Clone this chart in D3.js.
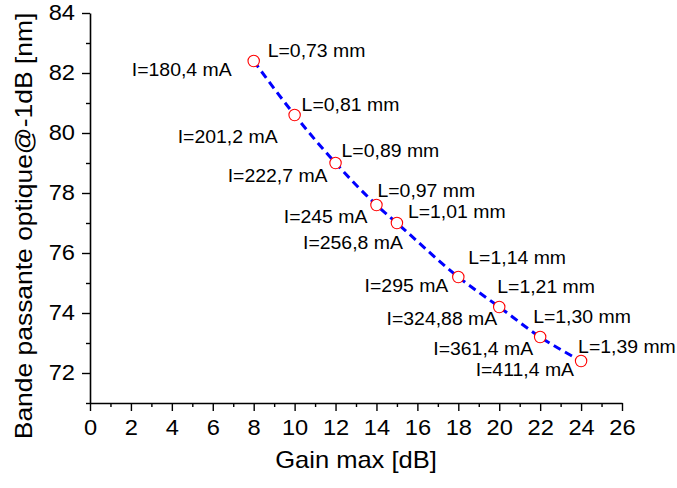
<!DOCTYPE html>
<html>
<head>
<meta charset="utf-8">
<script src="https://cdn.jsdelivr.net/npm/d3@7"></script>
<style>
  html, body { margin: 0; padding: 0; background: #fff; }
  svg { display: block; font-family: Arial, "Liberation Sans", sans-serif; }
</style>
</head>
<body>
<svg id="chart" width="677" height="488"></svg>
<script>
// ---- data ----
const gainMax = [8, 10, 12, 14, 15, 18, 20, 22, 24];
const bandwidth = [82.4, 80.6, 79.0, 77.6, 77.0, 75.2, 74.2, 73.2, 72.4];
const currentLabels = ["I=180,4 mA", "I=201,2 mA", "I=222,7 mA", "I=245 mA", "I=256,8 mA",
                       "I=295 mA", "I=324,88 mA", "I=361,4 mA", "I=411,4 mA"];
const lengthLabels = ["L=0,73 mm", "L=0,81 mm", "L=0,89 mm", "L=0,97 mm", "L=1,01 mm",
                      "L=1,14 mm", "L=1,21 mm", "L=1,30 mm", "L=1,39 mm"];
const xMajorTicks = [0, 2, 4, 6, 8, 10, 12, 14, 16, 18, 20, 22, 24, 26];
const xMinorTicks = [1, 3, 5, 7, 9, 11, 13, 15, 17, 19, 21, 23, 25];
const yMajorTicks = [72, 74, 76, 78, 80, 82, 84];
const yMinorTicks = [71, 73, 75, 77, 79, 81, 83];
const xTitle = "Gain max [dB]";
const yTitle = "Bande passante optique@-1dB [nm]";

// ---- annotation layout (pixel offsets from each marker) ----
const iLabelOffsets = [[-22, 15], [-17, 28], [-8, 19], [-9, 18], [6, 26], [-10, 15], [-2, 18], [-7, 18], [-7, 15]];
const lLabelOffsets = [[14, -4], [7, -4], [6, -6], [1, -8], [11, -5], [10, -13], [-2, -14], [-7, -14], [-3, -8]];

(function () {
const svg = d3.select("#chart");
const mLeft = 90, mRight = 622, mTop = 13, mBottom = 403;
const tickStretch = 1.1, labelStretch = 1.08;

const x = d3.scaleLinear().domain([0, 26]).range([mLeft, mRight]);
const y = d3.scaleLinear().domain([71, 84]).range([mBottom, mTop]);

function styleAxis(g) {
  g.select(".domain").attr("stroke", "#000").attr("stroke-width", 1.6);
  g.selectAll(".tick line").attr("stroke", "#000").attr("stroke-width", 1.4);
}

// X axis
const gx = svg.append("g").attr("transform", `translate(0,${mBottom})`)
  .call(d3.axisBottom(x).tickValues(xMajorTicks).tickSize(8).tickSizeOuter(0).tickPadding(9).tickFormat(d3.format("d")));
styleAxis(gx);
gx.selectAll(".tick text").attr("font-size", 21.5).attr("fill", "#000")
  .attr("font-family", "Arial, 'Liberation Sans', sans-serif")
  .attr("transform", `scale(${tickStretch},1)`);
const gxm = svg.append("g").attr("transform", `translate(0,${mBottom})`)
  .call(d3.axisBottom(x).tickValues(xMinorTicks).tickSize(4).tickSizeOuter(0).tickFormat(""));
gxm.select(".domain").remove();
styleAxis(gxm);

// Y axis
const gy = svg.append("g").attr("transform", `translate(${mLeft},0)`)
  .call(d3.axisLeft(y).tickValues(yMajorTicks).tickSize(8).tickSizeOuter(0).tickPadding(7).tickFormat(d3.format("d")));
styleAxis(gy);
gy.selectAll(".tick text").attr("font-size", 21.5).attr("fill", "#000")
  .attr("font-family", "Arial, 'Liberation Sans', sans-serif")
  .attr("x", -15 / tickStretch)
  .attr("transform", `scale(${tickStretch},1)`);
const gym = svg.append("g").attr("transform", `translate(${mLeft},0)`)
  .call(d3.axisLeft(y).tickValues(yMinorTicks).tickSize(4).tickSizeOuter(0).tickFormat(""));
gym.select(".domain").remove();
styleAxis(gym);

// Axis titles
svg.append("text")
  .attr("transform", `translate(${(mLeft + mRight) / 2},468) scale(1.11,1)`)
  .attr("text-anchor", "middle").attr("font-size", 23).attr("fill", "#000")
  .text(xTitle);
svg.append("text")
  .attr("transform", `translate(32,226) rotate(-90) scale(1.15,1)`)
  .attr("text-anchor", "middle").attr("font-size", 23).attr("fill", "#000")
  .text(yTitle);

// Line
const pts = gainMax.map((g, i) => [g, bandwidth[i]]);
const line = d3.line().x(d => x(d[0])).y(d => y(d[1])).curve(d3.curveMonotoneX);
svg.append("path").datum(pts)
  .attr("d", line)
  .attr("fill", "none")
  .attr("stroke", "#0000ff")
  .attr("stroke-width", 3)
  .attr("stroke-dasharray", "8,5");

// Markers
svg.append("g").selectAll("circle").data(pts).join("circle")
  .attr("cx", d => x(d[0])).attr("cy", d => y(d[1])).attr("r", 5.7)
  .attr("fill", "#fff").attr("stroke", "#ff0000").attr("stroke-width", 1.1);

// Labels
const lab = svg.append("g").attr("font-size", 18).attr("fill", "#000");
lab.selectAll("text.i").data(pts).join("text").attr("class", "i")
  .attr("text-anchor", "end")
  .attr("transform", (d, i) => `translate(${x(d[0]) + iLabelOffsets[i][0]},${y(d[1]) + iLabelOffsets[i][1]}) scale(${labelStretch},1)`)
  .text((d, i) => currentLabels[i]);
lab.selectAll("text.l").data(pts).join("text").attr("class", "l")
  .attr("text-anchor", "start")
  .attr("transform", (d, i) => `translate(${x(d[0]) + lLabelOffsets[i][0]},${y(d[1]) + lLabelOffsets[i][1]}) scale(${labelStretch},1)`)
  .text((d, i) => lengthLabels[i]);
})();
</script>
</body>
</html>
